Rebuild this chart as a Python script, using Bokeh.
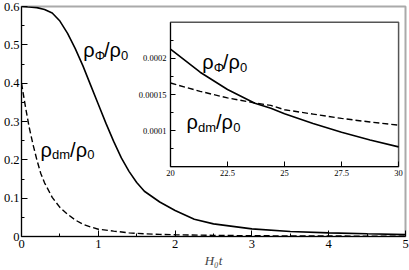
from bokeh.plotting import figure
from bokeh.models import (FixedTicker, PrintfTickFormatter, Label, Range1d,
                          LinearAxis)
from bokeh.embed import file_html
from bokeh.resources import INLINE

# ---------------- data ----------------
t_phi = [0, 0.1, 0.2, 0.3, 0.4, 0.5, 0.6, 0.7, 0.8, 0.9, 1.0, 1.1, 1.2, 1.3, 1.4,
         1.5, 1.6, 1.8, 2.0, 2.25, 2.5, 3.0, 3.5, 4.0, 4.5, 5.0]
rho_phi = [0.600, 0.599, 0.597, 0.592, 0.583, 0.562, 0.530, 0.490, 0.445, 0.395,
           0.345, 0.295, 0.248, 0.205, 0.170, 0.141, 0.118, 0.090, 0.068, 0.045,
           0.033, 0.020, 0.013, 0.0095, 0.007, 0.005]

t_dm = [0, 0.05, 0.1, 0.15, 0.2, 0.25, 0.3, 0.4, 0.5, 0.6, 0.7, 0.8, 0.9, 1.0,
        1.2, 1.4, 1.6, 1.8, 2.0, 2.5, 3.0, 3.5, 4.0, 4.5, 5.0]
rho_dm = [0.400, 0.340, 0.285, 0.240, 0.200, 0.165, 0.140, 0.102, 0.076, 0.058,
          0.043, 0.032, 0.025, 0.019, 0.014, 0.0095, 0.007, 0.0055, 0.0045, 0.003,
          0.002, 0.0015, 0.0012, 0.001, 0.0008]

t_in = [20, 21.3, 22.5, 23.7, 24.4, 25, 26.25, 27.5, 28.75, 30]
rho_phi_in = [0.000213, 0.000181, 0.000157, 0.000138, 0.000131, 0.0001235,
              0.000110, 0.0000978, 0.0000872, 0.0000776]
rho_dm_in = [0.000166, 0.0001545, 0.0001454, 0.0001384, 0.000135, 0.000129,
             0.000123, 0.000117, 0.000112, 0.0001077]

x_lim = [0, 5]
y_lim = [0, 0.6]
x_ticks = [0, 1, 2, 3, 4, 5]
x_minor = [0.5, 1.5, 2.5, 3.5, 4.5]
y_ticks = [0, 0.1, 0.2, 0.3, 0.4, 0.5, 0.6]
y_minor = [0.05, 0.15, 0.25, 0.35, 0.45, 0.55]

xin_lim = [20, 30]
yin_lim = [0.00005, 0.00025]
xin_ticks = [20, 22.5, 25, 27.5, 30]
yin_ticks = [0.0001, 0.00015, 0.0002]
yin_minor = [0.000075, 0.000125, 0.000175, 0.000225]

SERIF = "Liberation Serif"
SANS = "Liberation Sans"

# inset box position as fractions of the main frame (layout, not data)
FX0, FX1 = 0.388, 0.982
FY0, FY1 = 0.303, 0.931


def style_axis(ax, size, tin, tmin, standoff):
    ax.major_tick_in = tin
    ax.major_tick_out = 0
    ax.minor_tick_in = tmin
    ax.minor_tick_out = 0
    ax.axis_line_color = "black"
    ax.major_tick_line_color = "black"
    ax.minor_tick_line_color = "black"
    ax.major_label_text_font = SERIF
    ax.major_label_text_font_size = size
    ax.major_label_text_color = "black"
    ax.major_label_standoff = standoff
    ax.formatter = PrintfTickFormatter(format="%g")


def ratio_label(fig, x, y, sub, xr="default", yr="default", big=20, small=13):
    widths = {"ρ": 0.577, "Φ": 0.70, "/": 0.278, "0": 0.556, "d": 0.556, "m": 0.833}
    parts = [("ρ", big, 0), (sub, small, -5), ("/", big, 0), ("ρ", big, 0), ("0", small, -5)]
    off = 0.0
    for txt, sz, dy in parts:
        fig.add_layout(Label(x=x, y=y, x_offset=off, y_offset=dy, text=txt,
                             x_range_name=xr, y_range_name=yr,
                             text_font=SANS, text_font_size=f"{sz}px",
                             text_color="black", text_baseline="alphabetic"))
        off += sum(widths[c] for c in txt) * sz


def outer_range(lo, hi, f0, f1):
    span = (hi - lo) / (f1 - f0)
    start = lo - f0 * span
    return Range1d(start, start + span)


# ---------------- main plot ----------------
p = figure(width=409, height=270, x_range=Range1d(*x_lim), y_range=Range1d(*y_lim),
           output_backend="svg", toolbar_location=None,
           min_border_left=21, min_border_right=4, min_border_top=6, min_border_bottom=33)
p.grid.grid_line_color = None
p.outline_line_color = "#aaaaaa"
p.outline_line_width = 2
p.background_fill_color = "white"

p.line(t_phi, rho_phi, line_color="black", line_width=1.6)
p.line(t_dm, rho_dm, line_color="black", line_width=1.4, line_dash="6 3")

p.xaxis.ticker = FixedTicker(ticks=x_ticks, minor_ticks=x_minor)
p.yaxis.ticker = FixedTicker(ticks=y_ticks, minor_ticks=y_minor)
style_axis(p.xaxis[0], "12.5px", 6, 3, 3)
style_axis(p.yaxis[0], "12.5px", 6, 3, 2)
p.xaxis.axis_label = "H₀t"
p.xaxis.axis_label_text_font = SERIF
p.xaxis.axis_label_text_font_style = "italic"
p.xaxis.axis_label_text_font_size = "13px"
p.xaxis.axis_label_standoff = 2

ratio_label(p, 0.805, 0.486, "Φ")
ratio_label(p, 0.247, 0.226, "dm")

# ---------------- inset (same canvas, own ranges) ----------------
p.extra_x_ranges = {"ix": outer_range(xin_lim[0], xin_lim[1], FX0, FX1)}
p.extra_y_ranges = {"iy": outer_range(yin_lim[0], yin_lim[1], FY0, FY1)}

p.quad(left=[xin_lim[0]], right=[xin_lim[1]], bottom=[yin_lim[0]], top=[yin_lim[1]],
       x_range_name="ix", y_range_name="iy",
       fill_color="white", line_color="#555555", line_width=1.5)

p.line(t_in, rho_phi_in, x_range_name="ix", y_range_name="iy",
       line_color="black", line_width=1.6)
p.line(t_in, rho_dm_in, x_range_name="ix", y_range_name="iy",
       line_color="black", line_width=1.4, line_dash="6 3")

ax_in_x = LinearAxis(x_range_name="ix", y_range_name="iy",
                     fixed_location=yin_lim[0], bounds=tuple(xin_lim),
                     ticker=FixedTicker(ticks=xin_ticks, minor_ticks=[]))
ax_in_y = LinearAxis(x_range_name="ix", y_range_name="iy",
                     fixed_location=xin_lim[0], bounds=tuple(yin_lim),
                     ticker=FixedTicker(ticks=yin_ticks, minor_ticks=yin_minor))
style_axis(ax_in_x, "8.5px", 5, 3, 3)
style_axis(ax_in_y, "8.5px", 5, 3, 4)
p.add_layout(ax_in_x, "below")
p.add_layout(ax_in_y, "left")

ratio_label(p, 21.39, 0.0001946, "Φ", xr="ix", yr="iy")
ratio_label(p, 20.70, 0.0001114, "dm", xr="ix", yr="iy")

open("out.html", "w").write(file_html(p, INLINE))
